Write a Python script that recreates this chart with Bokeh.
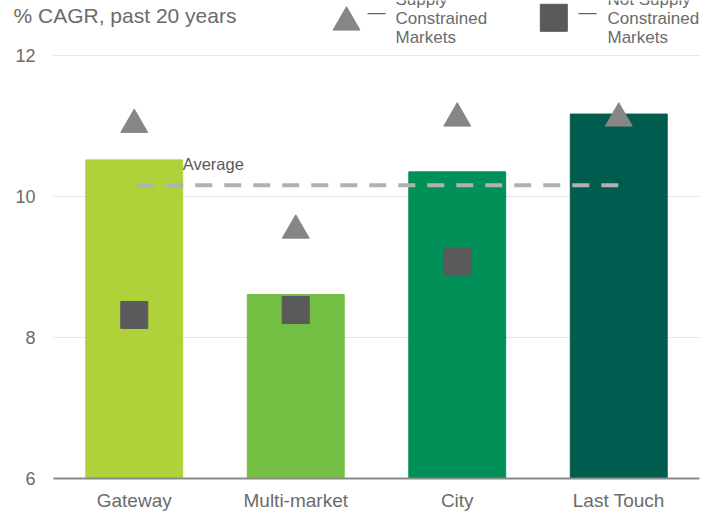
from bokeh.plotting import figure
from bokeh.layouts import column
from bokeh.models import FactorRange, Range1d, FixedTicker, Label, ColumnDataSource
from bokeh.embed import file_html
from bokeh.resources import INLINE

# ---- data ----
categories = ["Gateway", "Multi-market", "City", "Last Touch"]
bar_values = [10.52, 8.61, 10.35, 11.17]
supply_constrained = [11.02, 9.52, 11.11, 11.11]
not_supply_constrained = [8.32, 8.39, 9.07, float("nan")]
average_value = 10.16
bar_colors = ["#AFD13A", "#72BF44", "#009058", "#005C4E"]
y_ticks = [6, 8, 10, 12]
title_text = "% CAGR, past 20 years"
legend_labels = ["Supply\nConstrained\nMarkets", "Not Supply\nConstrained\nMarkets"]

FONT = "Liberation Sans"
TXT = "#6b6b6b"
TRI_C = "#868686"
SQ_C = "#5a5a5c"
BAR_W = 0.6
Y_MIN, Y_MAX = 6, 12.1
W = 714
HEAD_H = 48
MAIN_H = 513 - HEAD_H

# ---- header: title + legend (pixel coordinates, y downwards) ----
head = figure(width=W, height=HEAD_H, x_range=Range1d(0, W), y_range=Range1d(HEAD_H, 0),
              output_backend="svg", toolbar_location=None,
              min_border_left=0, min_border_right=0, min_border_top=0, min_border_bottom=0)
head.frame_align = False
head.axis.visible = False
head.grid.grid_line_color = None
head.outline_line_color = None
head.background_fill_color = "white"
head.border_fill_color = "white"

head.add_layout(Label(x=13, y=15.4, text=title_text, text_font=FONT, text_font_size="21px",
                      text_color=TXT, text_baseline="middle"))
head.scatter(x=[346], y=[21.8], marker="triangle", size=27, color=TRI_C)
head.scatter(x=[553.3], y=[17.3], marker="square", size=27, color=SQ_C)
for tx, dx, lab in [(395, 367, legend_labels[0]), (607, 578, legend_labels[1])]:
    head.add_layout(Label(x=dx, y=11.5, text="\u2014", text_font=FONT, text_font_size="18px",
                          text_color="#666666", text_baseline="middle"))
    head.add_layout(Label(x=tx, y=18.0, text=lab, text_font=FONT, text_font_size="17px",
                          text_color=TXT, text_baseline="middle", text_line_height=1.02))

# ---- main chart ----
src = ColumnDataSource(dict(cat=categories, val=bar_values, col=bar_colors,
                            tri=supply_constrained, sq=not_supply_constrained))

p = figure(width=W, height=MAIN_H, x_range=FactorRange(factors=categories, range_padding=0),
           y_range=Range1d(Y_MIN, Y_MAX), output_backend="svg", toolbar_location=None,
           min_border_left=53, min_border_right=15, min_border_top=0, min_border_bottom=34)
p.frame_align = False
p.outline_line_color = None
p.background_fill_color = "white"
p.border_fill_color = "white"

p.xgrid.grid_line_color = None
p.ygrid.grid_line_color = "#e6e6e6"
p.ygrid.grid_line_width = 1
p.yaxis.ticker = FixedTicker(ticks=y_ticks)
p.yaxis.axis_line_color = None
p.yaxis.major_tick_line_color = None
p.yaxis.minor_tick_line_color = None
p.yaxis.major_tick_out = 0
p.yaxis.major_tick_in = 0
p.yaxis.major_label_standoff = 18
p.yaxis.major_label_text_font = FONT
p.yaxis.major_label_text_font_size = "18px"
p.yaxis.major_label_text_color = TXT

p.xaxis.axis_line_color = "#8a8a8a"
p.xaxis.axis_line_width = 2
p.xaxis.major_tick_line_color = None
p.xaxis.major_tick_out = 0
p.xaxis.major_tick_in = 0
p.xaxis.major_label_standoff = 11
p.xaxis.major_label_text_font = FONT
p.xaxis.major_label_text_font_size = "19px"
p.xaxis.major_label_text_color = TXT

p.vbar(x="cat", top="val", bottom=Y_MIN, width=BAR_W, color="col", source=src)
p.line(x=[categories[0], categories[-1]], y=[average_value, average_value],
       line_color="#b1b1b1", line_width=4, line_dash="17 12", line_dash_offset=-3)
p.scatter(x="cat", y="tri", marker="triangle", size=27, color=TRI_C, source=src)
p.scatter(x="cat", y="sq", marker="square", size=27, color=SQ_C, source=src)

p.add_layout(Label(x=0.5 + BAR_W / 2, y=average_value, y_offset=21.4, text="Average",
                   text_font=FONT, text_font_size="16.5px", text_color="#5a5a5a",
                   text_baseline="middle"))

layout = column(head, p, spacing=0)
open("out.html", "w").write(file_html(layout, INLINE))
